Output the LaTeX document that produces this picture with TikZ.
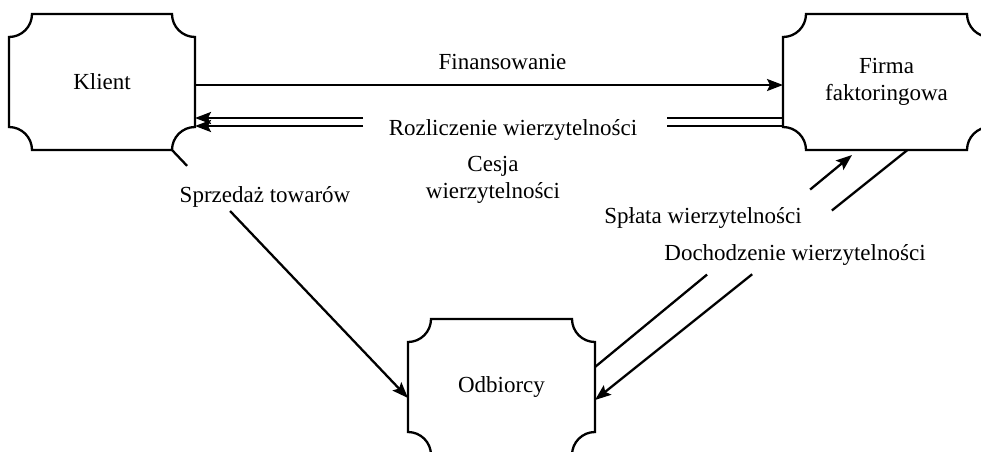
\documentclass[tikz,border=0pt]{standalone}
\usepackage{fontspec}
\setmainfont{Liberation Serif}
\usetikzlibrary{arrows.meta,positioning,calc}

% radius of the concave corners
\newcommand\plaquer{23pt}
% outline of a box with concave corners
\newcommand\plaqueoutline[1]{%
  \draw ([xshift=\plaquer]#1.north west) -- ([xshift=-\plaquer]#1.north east)
    arc[start angle=180,end angle=270,radius=\plaquer]
    -- ([yshift=\plaquer]#1.south east)
    arc[start angle=90,end angle=180,radius=\plaquer]
    -- ([xshift=\plaquer]#1.south west)
    arc[start angle=0,end angle=90,radius=\plaquer]
    -- ([yshift=-\plaquer]#1.north west)
    arc[start angle=270,end angle=360,radius=\plaquer] -- cycle;}

\begin{document}
\begin{tikzpicture}[x=1pt,y=1pt,>={Stealth[length=16pt,width=12pt,inset=3pt]},
  line width=2.3pt,
  every node/.style={font=\fontsize{23}{27}\selectfont},
  plaque/.style={minimum width=186pt,minimum height=136pt,inner sep=0pt,outer sep=0pt,align=center},
  lbl/.style={inner sep=0pt,anchor=base,align=center}]
\useasboundingbox (0,0) rectangle (981,-451);
\clip (0,0) rectangle (981,-451);
\node[plaque] (kl) at (102,-82) {Klient};
\node[plaque,minimum width=207pt,right=588pt of kl] (fi) {Firma\\faktoringowa};
\node[plaque,minimum width=187pt] (od) at (501.5,-387) {Odbiorcy};
\plaqueoutline{kl}
\plaqueoutline{fi}
\plaqueoutline{od}
% Finansowanie
\draw[->] ([yshift=-3pt]kl.east) -- node[pos=0.523,above=14pt,inner sep=0pt]{Finansowanie} ([yshift=-3pt]fi.west);
% Rozliczenie (double line)
\foreach \dy in {36,44}{
  \coordinate (rzf) at ([yshift=-\dy*1pt]fi.west);
  \coordinate (rzk) at ([yshift=-\dy*1pt]kl.east);
  \draw (rzf) -- ($(rzf)!0.197!(rzk)$);
  \draw[->] ($(rzf)!0.714!(rzk)$) -- (rzk);
}
\node[lbl] (rozl) at (513,-135) {Rozliczenie wierzytelności};
\node[align=center,inner sep=0pt] (cesja) at (493,-180) {Cesja\\wierzytelności};
% Sprzedaz
\coordinate (sz1) at ([xshift=-23pt]kl.south east);
\coordinate (sz2) at ([yshift=-11pt]od.west);
\draw (sz1) -- ($(sz1)!0.064!(sz2)$);
\draw[->] ($(sz1)!0.246!(sz2)$) -- (sz2);
\node[lbl] (sprz) at (265,-202) {Sprzedaż towarów};
% Splata
\coordinate (sp1) at ([yshift=20pt]od.east);
\coordinate (sp2) at ([xshift=-34.5pt,yshift=-5pt]fi.south);
\draw (sp1) -- ($(sp1)!0.436!(sp2)$);
\draw[->] ($(sp1)!0.837!(sp2)$) -- (sp2);
\node[lbl] (splata) at (703,-223) {Spłata wierzytelności};
% Dochodzenie
\coordinate (dh1) at ([xshift=21pt]fi.south);
\coordinate (dh2) at ([yshift=-13pt]od.east);
\draw (dh1) -- ($(dh1)!0.242!(dh2)$);
\draw[->] ($(dh1)!0.497!(dh2)$) -- (dh2);
\node[lbl] (doch) at (795,-260) {Dochodzenie wierzytelności};
\end{tikzpicture}
\end{document}
